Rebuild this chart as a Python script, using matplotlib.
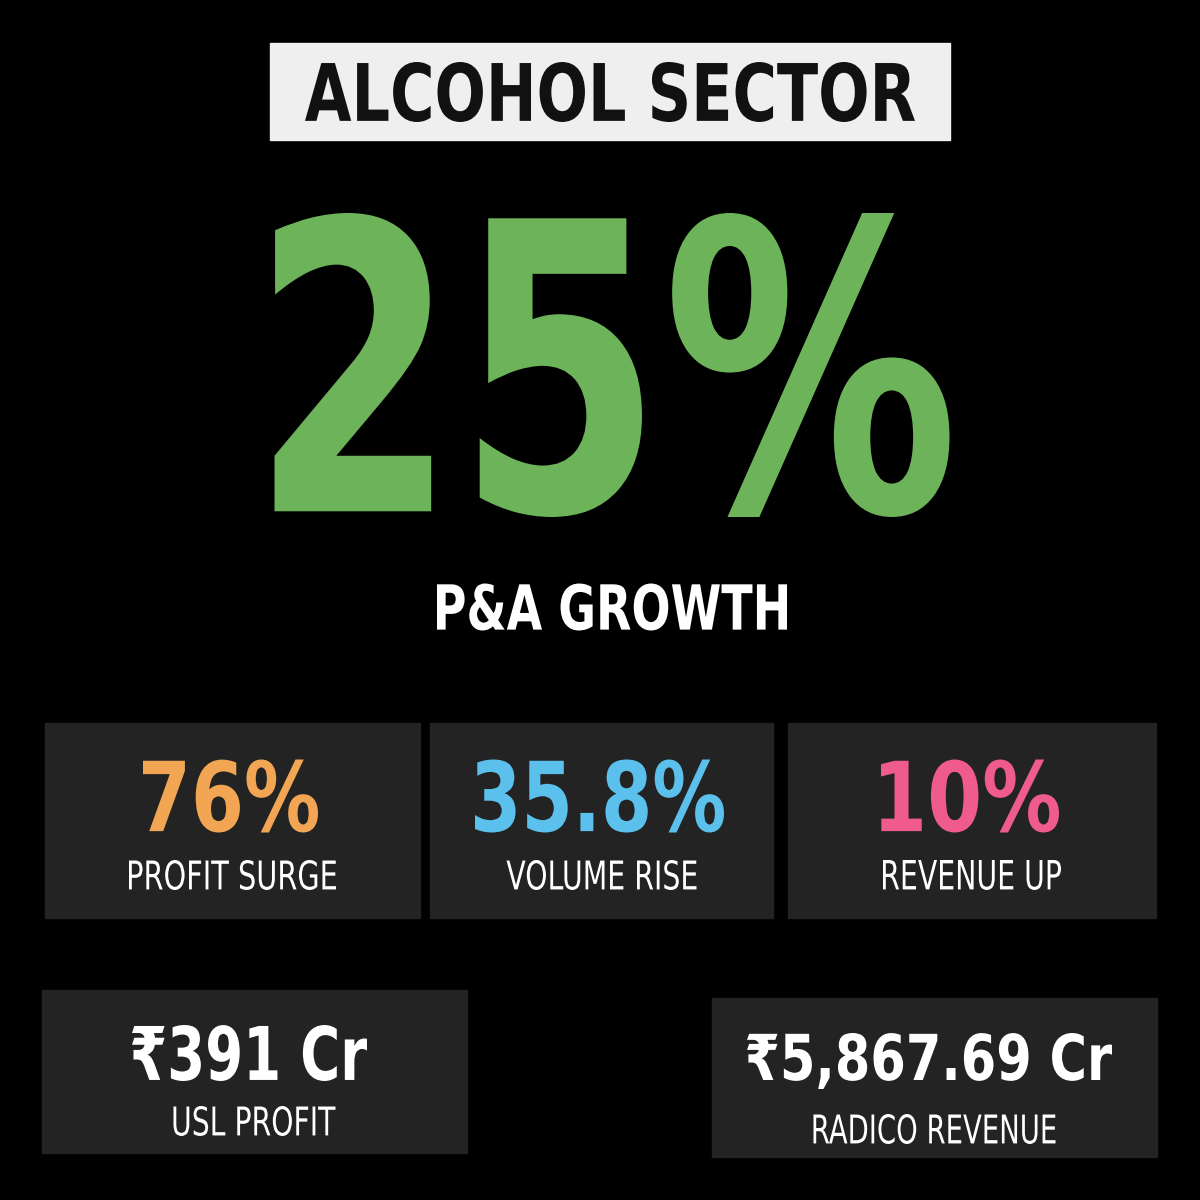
import matplotlib
matplotlib.use("Agg")
import matplotlib.pyplot as plt
from matplotlib.patches import Rectangle, PathPatch
from matplotlib.textpath import TextPath
from matplotlib.font_manager import FontProperties
from matplotlib.transforms import Affine2D

title = "ALCOHOL SECTOR"
headline = "25%"
headline_label = "P&A GROWTH"

stat_values = ["76%", "35.8%", "10%"]
stat_labels = ["PROFIT SURGE", "VOLUME RISE", "REVENUE UP"]
stat_colors = ["#F2A654", "#5BC0EB", "#EE5B8C"]

money_values = ["₹391 Cr", "₹5,867.69 Cr"]
money_labels = ["USL PROFIT", "RADICO REVENUE"]

# box layouts in pixel space (x0, y0, x1, y1)
stat_boxes = [(45, 723, 420, 918), (430, 723, 773, 918), (788, 723, 1156, 918)]
money_boxes = [(42, 990, 467, 1153), (712, 998, 1157, 1157)]
# text footprint (width, height) to mimic the condensed typeface
stat_value_w = [175, 249, 178]
stat_label_w = [207, 190, 178]
money_value_w = [235, 365]
money_label_w = [162, 242]

BOLD = FontProperties(family="DejaVu Sans", weight="bold")
NORMAL = FontProperties(family="DejaVu Sans", weight="normal")


def fit_text(ax, s, cx, cy, w, h, color, prop):
    # draw text squeezed into a w x h box centred on (cx, cy); y axis points down
    tp = TextPath((0, 0), s, size=100, prop=prop)
    ext = tp.get_extents()
    sx = w / ext.width
    sy = h / ext.height
    tr = (Affine2D().translate(-ext.x0, -ext.y0).scale(sx, -sy)
          .translate(cx - w / 2, cy + h / 2))
    ax.add_patch(PathPatch(tr.transform_path(tp), color=color, lw=0))


fig = plt.figure(figsize=(12, 12), dpi=100, facecolor="black")
ax = fig.add_axes([0, 0, 1, 1])
ax.set_xlim(0, 1200)
ax.set_ylim(1200, 0)
ax.axis("off")

# title banner
ax.add_patch(Rectangle((270, 43), 680, 97, color="#EFEFEF"))
fit_text(ax, title, 610, 92, 610, 60, "#111111", BOLD)

fit_text(ax, headline, 612, 365, 675, 304, "#6DB35A", BOLD)
fit_text(ax, headline_label, 612, 607, 350, 47, "white", BOLD)

for i, (x0, y0, x1, y1) in enumerate(stat_boxes):
    ax.add_patch(Rectangle((x0, y0), x1 - x0, y1 - y0, color="#232323"))
    cx = (x0 + x1) / 2
    fit_text(ax, stat_values[i], cx - 2, 796, stat_value_w[i], 73, stat_colors[i], BOLD)
    fit_text(ax, stat_labels[i], cx, 875, stat_label_w[i], 30, "white", NORMAL)

for i, (x0, y0, x1, y1) in enumerate(money_boxes):
    ax.add_patch(Rectangle((x0, y0), x1 - x0, y1 - y0, color="#232323"))
    cx = (x0 + x1) / 2
    fit_text(ax, money_values[i], cx - 5, y0 + 63, money_value_w[i], 56, "white", BOLD)
    fit_text(ax, money_labels[i], cx, y0 + 131, money_label_w[i], 30, "white", NORMAL)

fig.savefig("out.png", dpi=100, facecolor="black")
